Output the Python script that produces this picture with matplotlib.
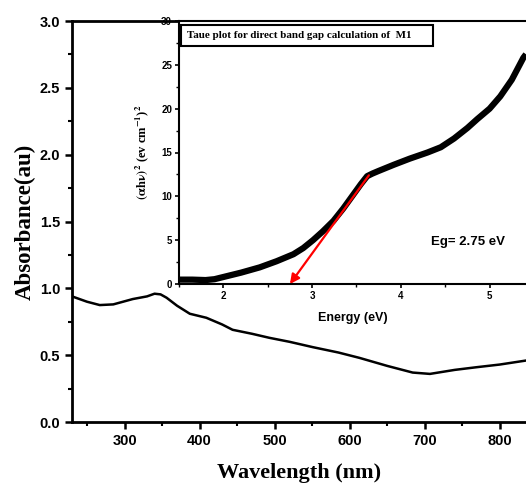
import numpy as np
import matplotlib.pyplot as plt
from matplotlib.patches import Rectangle
from matplotlib.ticker import MultipleLocator

plt.rcParams['mathtext.fontset'] = 'stix'

# main absorbance spectrum
wavelength = [230, 250, 267, 285, 311, 330, 340, 348, 356, 370, 387, 409, 430, 444,
              470, 493, 520, 551, 585, 613, 650, 684, 707, 740, 769, 800, 835]
absorbance = [0.94, 0.90, 0.875, 0.88, 0.92, 0.94, 0.96, 0.955, 0.93, 0.87, 0.81,
              0.78, 0.73, 0.69, 0.66, 0.63, 0.60, 0.56, 0.52, 0.48, 0.42, 0.37,
              0.36, 0.39, 0.41, 0.43, 0.46]

# Tauc plot data (inset)
energy = [1.5, 1.65, 1.8, 1.9, 2.0, 2.2, 2.41, 2.6, 2.79, 2.9, 3.01, 3.12, 3.24,
          3.35, 3.45, 3.55, 3.62, 3.68, 3.75, 3.92, 4.1, 4.3, 4.45, 4.6, 4.75,
          4.86, 5.0, 5.12, 5.25, 5.38, 5.41]
tauc = [0.5, 0.5, 0.45, 0.55, 0.8, 1.3, 1.9, 2.6, 3.4, 4.1, 5.0, 6.0, 7.2,
        8.6, 10.0, 11.4, 12.3, 12.6, 12.9, 13.6, 14.3, 15.0, 15.6, 16.6, 17.8,
        18.8, 20.0, 21.4, 23.3, 25.8, 26.2]

fit_x = [3.64, 2.75]
fit_y = [12.4, 0.0]
eg_label = "Eg= 2.75 eV"

fig = plt.figure(figsize=(5.26, 4.88), dpi=100)

# main axes
ax = fig.add_axes([0.1369, 0.1352, 0.8631, 0.8217])
ax.plot(wavelength, absorbance, color='black', lw=1.8)
ax.set_xlim(230, 835)
ax.set_ylim(0, 3.0)
ax.xaxis.set_major_locator(MultipleLocator(100))
ax.xaxis.set_minor_locator(MultipleLocator(50))
ax.yaxis.set_major_locator(MultipleLocator(0.5))
ax.yaxis.set_minor_locator(MultipleLocator(0.25))
ax.yaxis.set_major_formatter(plt.FormatStrFormatter('%.1f'))
ax.tick_params(which='major', direction='out', length=5, width=1.8,
               labelsize=10.5, top=False, right=False)
ax.tick_params(which='minor', direction='out', length=3, width=1.5,
               top=False, right=False)
for lab in ax.get_xticklabels() + ax.get_yticklabels():
    lab.set_fontweight('bold')
    lab.set_family('Liberation Sans')
for s in ['left', 'bottom', 'top']:
    ax.spines[s].set_linewidth(2)
ax.spines['right'].set_visible(False)
ax.set_xlabel('Wavelength (nm)', family='Liberation Serif', fontweight='bold',
              fontsize=16, labelpad=11)
ax.set_ylabel('Absorbance(au)', family='Liberation Serif', fontweight='bold',
              fontsize=16.5, labelpad=3)

# inset Tauc plot
ins = fig.add_axes([0.3403, 0.418, 0.6597, 0.539])
ins.plot(energy, tauc, color='black', lw=4.5, solid_capstyle='butt',
         solid_joinstyle='round')
ins.annotate('', xy=(fit_x[1], fit_y[1]), xytext=(fit_x[0], fit_y[0]),
             arrowprops=dict(arrowstyle='-|>', color='red', lw=1.6,
                             mutation_scale=14, shrinkA=0, shrinkB=0))
ins.set_xlim(1.5, 5.41)
ins.set_ylim(0, 30)
ins.xaxis.set_major_locator(MultipleLocator(1))
ins.xaxis.set_minor_locator(MultipleLocator(0.5))
ins.yaxis.set_major_locator(MultipleLocator(5))
ins.yaxis.set_minor_locator(MultipleLocator(2.5))
ins.tick_params(which='major', direction='out', length=3, width=1.2,
                labelsize=7, pad=2, top=False, right=False)
ins.tick_params(which='minor', direction='out', length=2, width=1,
                top=False, right=False)
for lab in ins.get_xticklabels() + ins.get_yticklabels():
    lab.set_fontweight('bold')
    lab.set_family('Liberation Sans')
for s in ['left', 'bottom', 'top']:
    ins.spines[s].set_linewidth(1.5)
ins.spines['right'].set_visible(False)
ins.set_xlabel('Energy (eV)', family='Liberation Sans', fontweight='bold',
               fontsize=9, labelpad=8)
ins.set_ylabel(r'$\mathbf{(\alpha h\nu)^2}$ (ev cm$\mathbf{^{-1}}$)$\mathbf{^2}$',
               family='Liberation Serif', fontweight='bold', fontsize=9,
               labelpad=7)

# title box of the inset
ins.add_patch(Rectangle((0.006, 0.905), 0.726, 0.08, transform=ins.transAxes,
                        fc='white', ec='black', lw=1.5, zorder=3))
ins.text(0.023, 0.945, 'Taue plot for direct band gap calculation of  M1',
         transform=ins.transAxes, ha='left', va='center', zorder=4,
         family='Liberation Serif', fontweight='bold', fontsize=7.9)
ins.text(0.727, 0.161, eg_label, transform=ins.transAxes, va='center',
         family='Liberation Sans', fontweight='bold', fontsize=9.5)

fig.savefig('out.png', dpi=100)
